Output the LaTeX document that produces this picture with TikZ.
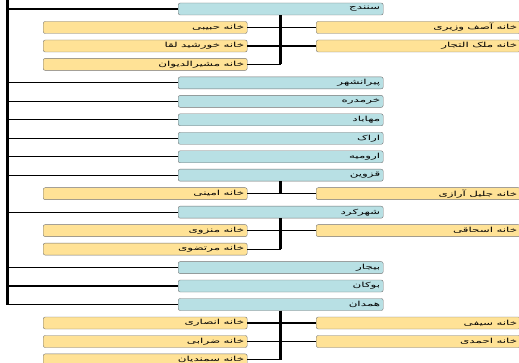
\documentclass[tikz,border=0pt]{standalone}
\usepackage{fontspec}
\newfontfamily\farsi[Script=Arabic,FakeStretch=1.7]{DejaVu Sans}
\TeXXeTstate=1
\usetikzlibrary{positioning}
\definecolor{cityblue}{RGB}{184,224,228}
\definecolor{houseyellow}{RGB}{255,226,150}
\newcommand{\fa}[1]{{\farsi\fontsize{7}{8}\selectfont\beginR #1\endR}}

\begin{document}
\begin{tikzpicture}[x=1pt,y=-1pt,
    city/.style={draw=black!55,fill=cityblue,rounded corners=2pt,minimum height=12pt,
      text width=199pt,inner xsep=3pt,inner ysep=0.5pt,align=right,anchor=west},
    house/.style={draw=black!55,fill=houseyellow,rounded corners=2pt,minimum height=12pt,
      text width=198pt,inner xsep=3pt,inner ysep=0.5pt,align=right,anchor=west},
    trunk/.style={line width=3pt},
    branch/.style={line width=1.1pt},
    stem/.style={line width=2.6pt}]
      \useasboundingbox (0,0) rectangle (519,363);
      \coordinate (top) at (7.5,-3);
      % cities
      \node[city] (sanandaj) at (178,9) {\fa{سنندج}};
      \node[city] (piranshahr) at (178,82.9) {\fa{پیرانشهر}};
      \node[city] (khorramdareh) at (178,101.4) {\fa{خرمدره}};
      \node[city] (mahabad) at (178,119.8) {\fa{مهاباد}};
      \node[city] (arak) at (178,138.3) {\fa{اراک}};
      \node[city] (orumieh) at (178,156.8) {\fa{ارومیه}};
      \node[city] (qazvin) at (178,175.2) {\fa{قزوین}};
      \node[city] (shahrekord) at (178,212.2) {\fa{شهرکرد}};
      \node[city] (bijar) at (178,267.6) {\fa{بیجار}};
      \node[city] (bukan) at (178,286) {\fa{بوکان}};
      \node[city] (hamedan) at (178,304.5) {\fa{همدان}};
      % houses
      \node[house] (habibi) at (43,27.5) {\fa{خانه حبیبی}};
      \node[house] (khorshid) at (43,46) {\fa{خانه خورشید لقا}};
      \node[house] (moshir) at (43,64.4) {\fa{خانه مشیرالدیوان}};
      \node[house] (asef) at (316,27.5) {\fa{خانه آصف وزیری}};
      \node[house] (malek) at (316,46) {\fa{خانه ملک التجار}};
      \node[house] (amini) at (43,193.7) {\fa{خانه امینی}};
      \node[house] (jalil) at (316,193.7) {\fa{خانه جلیل آرازی}};
      \node[house] (monzavi) at (43,230.6) {\fa{خانه منزوی}};
      \node[house] (mortazavi) at (43,249.1) {\fa{خانه مرتضوی}};
      \node[house] (eshaghi) at (316,230.6) {\fa{خانه اسحاقی}};
      \node[house] (ansari) at (43,323) {\fa{خانه انصاری}};
      \node[house] (zarrabi) at (43,341.5) {\fa{خانه ضرابی}};
      \node[house] (samandian) at (43,359.9) {\fa{خانه سمندیان}};
      \node[house] (seifi) at (316,323) {\fa{خانه سیفی}};
      \node[house] (ahmadi) at (316,341.5) {\fa{خانه احمدی}};
      % trunk and city branches
      \draw[trunk] (top) -- (hamedan.west -| top);
      \foreach \c in {sanandaj,piranshahr,khorramdareh,mahabad,arak,orumieh,qazvin,shahrekord,bijar,bukan,hamedan}
        \draw[branch] (\c.west -| top) -- (\c.west);
      % sanandaj
      \draw[stem] (sanandaj.south) -- (moshir.east -| sanandaj.south);
      \foreach \h in {habibi,khorshid,moshir}
        \draw[branch] (\h.east) -- (\h.east -| sanandaj.south);
      \foreach \h in {asef,malek}
        \draw[branch] (\h.west -| sanandaj.south) -- (\h.west);
      % qazvin
      \draw[stem] (qazvin.south) -- (amini.east -| qazvin.south);
      \draw[branch] (amini.east) -- (jalil.west);
      % shahrekord
      \draw[stem] (shahrekord.south) -- (mortazavi.east -| shahrekord.south);
      \foreach \h in {monzavi,mortazavi}
        \draw[branch] (\h.east) -- (\h.east -| shahrekord.south);
      \draw[branch] (eshaghi.west -| shahrekord.south) -- (eshaghi.west);
      % hamedan
      \draw[stem] (hamedan.south) -- (samandian.east -| hamedan.south);
      \foreach \h in {ansari,zarrabi,samandian}
        \draw[branch] (\h.east) -- (\h.east -| hamedan.south);
      \foreach \h in {seifi,ahmadi}
        \draw[branch] (\h.west -| hamedan.south) -- (\h.west);
\end{tikzpicture}
\end{document}
